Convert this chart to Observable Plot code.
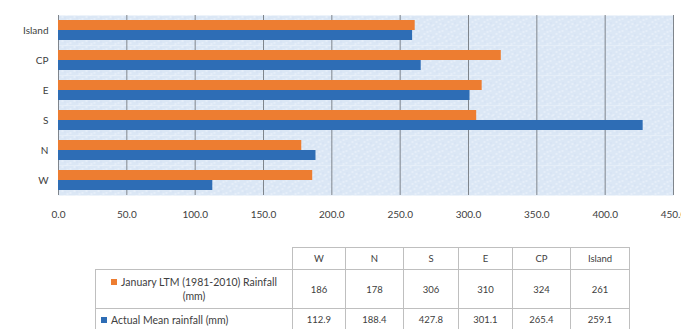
<!DOCTYPE html>
<html>
<head>
<meta charset="utf-8">
<script src="https://cdn.jsdelivr.net/npm/d3@7"></script>
<script src="https://cdn.jsdelivr.net/npm/@observablehq/plot@0.6"></script>
<style>
  html, body { margin: 0; padding: 0; background: #fff; }
  body { width: 681px; height: 329px; overflow: hidden; font-family: Lato, "Open Sans", sans-serif; }
  #chart svg { display: block; }
  #tbl { margin-top: 19px; margin-left: 95px; }
  table { border-collapse: collapse; font-family: Lato, "Open Sans", sans-serif; font-size: 9.5px; color: #404040; table-layout: fixed; }
  td { border: 1px solid #bfbfbf; text-align: center; padding: 0 3px; }
  td.blank { border-top: none; border-left: none; }
  tr.hdr td { height: 21px; }
  tr.r1 td { height: 38px; }
  tr.r2 td { height: 21px; }
  td.lab { text-align: left; padding-left: 5px; font-size: 10.5px; line-height: 14px; }
  td.lab.c { text-align: center; padding-left: 4px; padding-right: 4px; }
  .sw { display: inline-block; width: 6px; height: 6px; margin-right: 4px; vertical-align: 1px; }
</style>
</head>
<body>
<div id="chart"></div>
<div id="tbl"></div>
<script>
const regions = ["W", "N", "S", "E", "CP", "Island"];
const ltm = [186, 178, 306, 310, 324, 261];
const actual = [112.9, 188.4, 427.8, 301.1, 265.4, 259.1];
const seriesNames = ["January LTM (1981-2010) Rainfall (mm)", "Actual Mean rainfall (mm)"];
const seriesColors = ["#ed7d31", "#2e6db5"];
const tableLtm = ["186", "178", "306", "310", "324", "261"];
const tableActual = ["112.9", "188.4", "427.8", "301.1", "265.4", "259.1"];
const xTicks = [0, 50, 100, 150, 200, 250, 300, 350, 400, 450];

const rows = [];
regions.forEach((r, i) => {
  rows.push({region: r, series: seriesNames[0], value: ltm[i]});
  rows.push({region: r, series: seriesNames[1], value: actual[i]});
});

const plot = Plot.plot({
  width: 681,
  height: 228,
  marginLeft: 58,
  marginRight: 8,
  marginTop: 13,
  marginBottom: 31,
  style: {fontFamily: "Lato, 'Open Sans', sans-serif", fontSize: "10px", color: "#404040", background: "transparent"},
  x: {domain: [0, 450], ticks: xTicks, tickFormat: d3.format(".1f"), tickSize: 0, tickPadding: 15, label: null},
  fy: {domain: regions.slice().reverse(), padding: 0, label: null, tickSize: 0, tickPadding: 10},
  y: {domain: seriesNames, paddingInner: 0, paddingOuter: 0.4, axis: null},
  color: {domain: seriesNames, range: seriesColors},
  marks: [
    Plot.frame({fill: "url(#tex)", stroke: null}),
    Plot.gridX({ticks: xTicks, stroke: "#7f858c", strokeOpacity: 1, strokeWidth: 1}),
    Plot.barX(rows, {fy: "region", y: "series", x: "value", fill: "series", inset: 0, insetTop: 0, insetBottom: 0})
  ]
});

// texture pattern for the plot background
const svg = d3.select(plot);
const defs = svg.insert("defs", ":first-child");
const pat = defs.append("pattern").attr("id", "tex").attr("patternUnits", "userSpaceOnUse")
  .attr("width", 12).attr("height", 12);
pat.append("rect").attr("width", 12).attr("height", 12).attr("fill", "#dbe7f5");
[[1,2],[5,0],[9,4],[3,7],[7,9],[11,11],[0,10],[6,5]].forEach(([a,b]) =>
  pat.append("rect").attr("x", a).attr("y", b).attr("width", 2).attr("height", 1).attr("fill", "#eef4fb"));
[[4,3],[10,8],[2,11]].forEach(([a,b]) =>
  pat.append("rect").attr("x", a).attr("y", b).attr("width", 1).attr("height", 1).attr("fill", "#cddcef"));

document.getElementById("chart").appendChild(plot);

// data table
const colW = [197, 53, 58, 55, 54, 58, 59];
const t = d3.select("#tbl").append("table");
const cg = t.append("colgroup");
colW.forEach(w => cg.append("col").style("width", w + "px"));
const hdr = t.append("tr").attr("class", "hdr");
hdr.append("td").attr("class", "blank");
regions.forEach(r => hdr.append("td").text(r));
const r1 = t.append("tr").attr("class", "r1");
const l1 = r1.append("td").attr("class", "lab c");
l1.append("span").attr("class", "sw").style("background", seriesColors[0]);
l1.append("span").text(seriesNames[0]);
tableLtm.forEach(v => r1.append("td").text(v));
const r2 = t.append("tr").attr("class", "r2");
const l2 = r2.append("td").attr("class", "lab");
l2.append("span").attr("class", "sw").style("background", seriesColors[1]);
l2.append("span").text(seriesNames[1]);
tableActual.forEach(v => r2.append("td").text(v));
</script>
</body>
</html>
